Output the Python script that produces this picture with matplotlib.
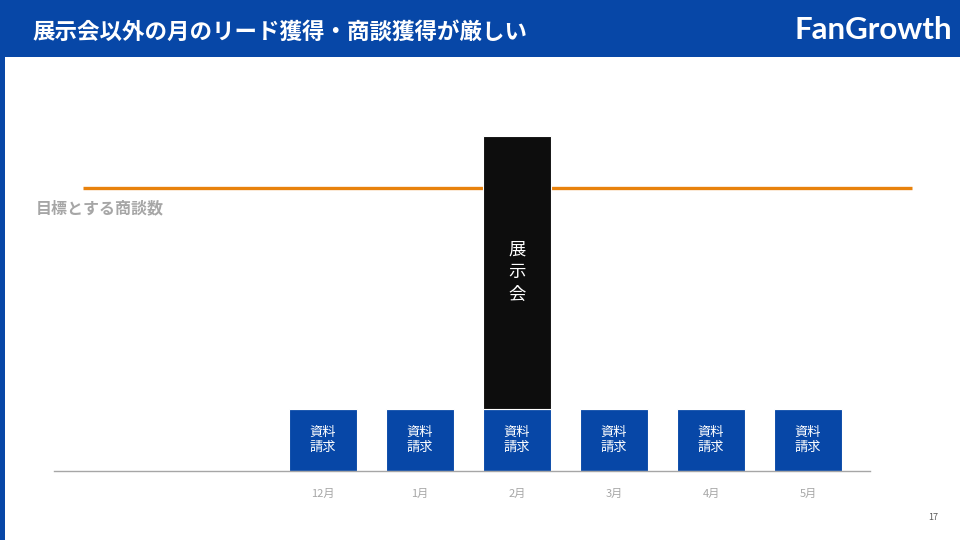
import numpy as np
import matplotlib.pyplot as plt
from matplotlib.patches import Rectangle

plt.rcParams['font.family'] = ['Noto Sans CJK JP', 'DejaVu Sans']

months = ['12月', '1月', '2月', '3月', '4月', '5月']
request_values = [10, 10, 10, 10, 10, 10]
expo_values = [0, 0, 44, 0, 0, 0]
target_value = 45.6

title = '展示会以外の月のリード獲得・商談獲得が厳しい'
request_label = '資料\n請求'
expo_label = '展\n示\n会'
target_label = '目標とする商談数'

blue = '#0747A7'
black = '#0D0D0D'
orange = '#E8820C'
gray = '#A6A6A6'

W, H = 960, 540
fig = plt.figure(figsize=(9.6, 5.4), dpi=100)

# slide decoration: header bar and left strip
fig.patches.append(Rectangle((0, 1 - 57 / H), 1, 57 / H, transform=fig.transFigure,
                             facecolor=blue, edgecolor='none', zorder=0))
fig.patches.append(Rectangle((0, 0), 5 / W, 1 - 57 / H, transform=fig.transFigure,
                             facecolor=blue, edgecolor='none', zorder=0))
fig.text(32 / W, 1 - 32 / H, title, color='white', fontsize=16.2, fontweight='bold',
         va='center', ha='left')
fig.text(952 / W, 1 - 30 / H, 'FanGrowth', color='white', fontsize=22.5, fontweight='bold',
         family=['Lato', 'DejaVu Sans'], va='center', ha='right')
fig.text(938 / W, 1 - 518 / H, '17', color='#595959', fontsize=6.5, va='center', ha='right')

# chart area
ax = fig.add_axes([54 / W, 69 / H, 816 / W, 371 / H])
x = np.arange(len(months))
bw = 0.70

ax.bar(x, request_values, width=bw, color=blue, edgecolor='white', linewidth=0.8, zorder=3)
ax.bar(x, expo_values, width=bw, bottom=request_values, color=black, edgecolor='white',
       linewidth=0.8, zorder=3)

for xi, rv, ev in zip(x, request_values, expo_values):
    ax.text(xi, rv / 2, request_label, ha='center', va='center', color='white',
            fontsize=9.5, linespacing=1.25, zorder=4)
    if ev > 0:
        ax.text(xi, rv + ev * 0.5, expo_label, ha='center', va='center', color='white',
                fontsize=12.5, linespacing=1.32, zorder=4)

ax.plot([-2.474, 6.072], [target_value, target_value], color=orange, linewidth=2.4,
        clip_on=False, zorder=2, solid_capstyle='butt')
ax.text(-2.959, target_value - 3.3, target_label, color=gray, fontsize=11.5, fontweight='bold',
        ha='left', va='center')

ax.set_xlim(-2.773, 5.639)
ax.set_ylim(0, 59.8)
ax.set_xticks(x)
ax.set_xticklabels(months, color=gray, fontsize=8)
ax.tick_params(axis='x', length=0, pad=13)
ax.set_yticks([])
for s in ['top', 'right', 'left']:
    ax.spines[s].set_visible(False)
ax.spines['bottom'].set_color('#A6A6A6')
ax.spines['bottom'].set_linewidth(1)
ax.spines['bottom'].set_zorder(5)

fig.savefig('out.png', dpi=100)
